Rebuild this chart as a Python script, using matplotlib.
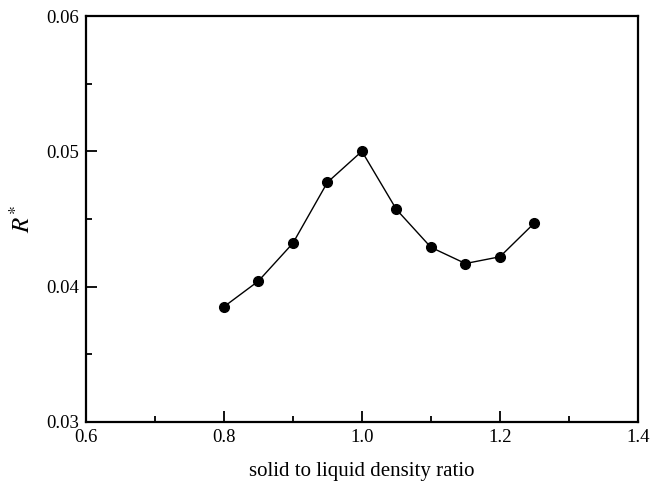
import matplotlib
matplotlib.use('Agg')
import matplotlib.pyplot as plt
from matplotlib.ticker import MultipleLocator

ratio = [0.80, 0.85, 0.90, 0.95, 1.00, 1.05, 1.10, 1.15, 1.20, 1.25]
r_star = [0.0385, 0.0404, 0.0432, 0.0477, 0.0500, 0.0457, 0.0429, 0.0417, 0.0422, 0.0447]

plt.rcParams['font.family'] = ['Liberation Serif', 'DejaVu Serif']
plt.rcParams['mathtext.fontset'] = 'stix'

fig = plt.figure(figsize=(6.5, 4.87), dpi=100)
ax = fig.add_axes([0.132, 0.134, 0.8495, 0.833])

ax.plot(ratio, r_star, color='black', linewidth=1, marker='o', markersize=7)

ax.set_xlim(0.6, 1.4)
ax.set_ylim(0.03, 0.06)
ax.xaxis.set_major_locator(MultipleLocator(0.2))
ax.xaxis.set_minor_locator(MultipleLocator(0.1))
ax.yaxis.set_major_locator(MultipleLocator(0.01))
ax.yaxis.set_minor_locator(MultipleLocator(0.005))
ax.xaxis.set_major_formatter(plt.FormatStrFormatter('%.1f'))
ax.yaxis.set_major_formatter(plt.FormatStrFormatter('%.2f'))

ax.tick_params(which='both', direction='in', top=False, right=False, labelsize=13.5, width=1.3)
ax.tick_params(which='major', length=8, pad=5)
ax.tick_params(which='minor', length=4)
for s in ax.spines.values():
    s.set_linewidth(1.6)

ax.set_xlabel('solid to liquid density ratio', fontsize=15, labelpad=12)
ax.set_ylabel(r'$R^{*}$', fontsize=18, labelpad=8)

fig.savefig('out.png', dpi=100)
